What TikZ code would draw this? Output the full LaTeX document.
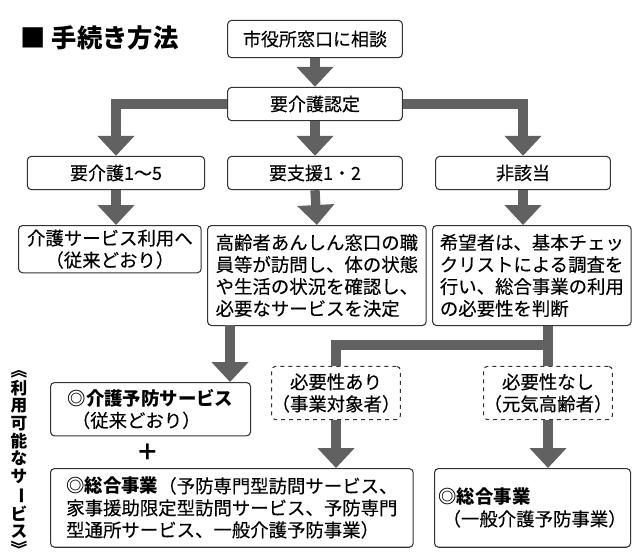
\documentclass[tikz,border=0pt]{standalone}
\usepackage{fontspec}
\setmainfont{Noto Sans CJK JP}[UprightFeatures={FakeBold=0.25}]
\XeTeXlinebreaklocale "ja"
\XeTeXlinebreakskip=0pt plus 1pt
\usepackage{graphicx}
\usetikzlibrary{arrows.meta, positioning}

\begin{document}
\begin{tikzpicture}[
    x=0.75pt, y=-0.75pt,
    % Styles
    stepbox/.style={rectangle, draw=black!80, line width=0.8pt, rounded corners=3pt, font=\fontsize{13.5}{16}\selectfont, inner sep=0pt},
    textbox/.style={stepbox, align=left, anchor=north west, inner xsep=2pt, inner ysep=3pt, font=\fontsize{13.8}{16.5}\selectfont},
    needbox/.style={stepbox, dashed, align=center, font=\fontsize{13.8}{16.5}\selectfont},
    flow/.style={line width=7pt, color=black!62},
    flowarrow/.style={flow, -{Triangle[width=27pt,length=15pt]}}
]
\useasboundingbox (0,0) rectangle (641,558);

% Title
\node[anchor=west, font=\fontsize{19}{20}\selectfont\bfseries] (title) at (16,38) {■ 手続き方法};

% Top boxes
\node[stepbox, minimum width=131pt, minimum height=28pt] (consult) at (315,39) {市役所窓口に相談};
\node[stepbox, minimum width=131pt, minimum height=25pt] (cert) at (315,104) {要介護認定};

% Level boxes
\node[stepbox, minimum width=133pt, minimum height=25pt] (care) at (116,173) {要介護1〜5};
\node[stepbox, minimum width=131pt, minimum height=25pt] (support) at (315,173) {要支援1・2};
\node[stepbox, minimum width=131pt, minimum height=25pt] (none) at (523,173) {非該当};

% Result boxes
\node[textbox, minimum width=137pt, minimum height=30pt, align=center] (careuse) at (18,225) {介護サービス利用へ\\（従来どおり）};
\node[textbox, minimum width=164pt, minimum height=75pt] (visit) at (207,225) {高齢者あんしん窓口の職\\員等が訪問し、体の状態\\や生活の状況を確認し、\\必要なサービスを決定};
\node[textbox, minimum width=149pt, minimum height=75pt] (check) at (432,225) {希望者は、基本チェッ\\クリストによる調査を\\行い、総合事業の利用\\の必要性を判断};

% Need boxes
\node[needbox, minimum width=92pt, minimum height=40pt] (need) at (336,393) {必要性あり\\（事業対象者）};
\node[needbox, minimum width=92pt, minimum height=40pt] (noneed) at (548,393) {必要性なし\\（元気高齢者）};

% Service boxes
\node[textbox, minimum width=150pt, minimum height=40pt] (prevent) at (50,382) {\textbf{◎介護予防サービス}\\\ （従来どおり）};
\node[font=\fontsize{17}{17}\selectfont\bfseries] (plus) at (148,452) {＋};
\node[textbox, minimum width=272pt, minimum height=59pt] (general) at (50,468) {\textbf{◎総合事業}（予防専門型訪問サービス、\\家事援助限定型訪問サービス、予防専門\\型通所サービス、一般介護予防事業）};
\node[textbox, minimum width=147pt, minimum height=59pt] (generalb) at (434,468) {\textbf{◎総合事業}\\\ （一般介護予防事業）};

% Side label
\node[align=center, font=\fontsize{12.5}{13.2}\selectfont\bfseries, inner sep=0pt] (avail) at (19,463) {︽\\利\\用\\可\\能\\な\\サ\\\rotatebox[origin=c]{-90}{ー}\\ビ\\ス\\︾};

% Flow arrows
\draw[flowarrow] (consult.south) -- (cert.north);
\draw[flowarrow] (cert.west) -| (care.north);
\draw[flowarrow] (cert.south) -- (support.north);
\draw[flowarrow] (cert.east) -| (none.north);
\draw[flowarrow] (care.south) -- (care.south |- careuse.north);
\draw[flowarrow] (support.south) -- (visit.north);
\draw[flowarrow] (none.south) -- (none.south |- check.north);
\coordinate (vs) at (230,325);
\draw[flowarrow] (vs) -- (vs |- prevent.north);
\coordinate (split) at (548,345);
\draw[flow] (split |- check.south) -- (split) -| (need.north);
\draw[flow] (split) -- (noneed.north);
\draw[flowarrow] (need.south) -- (need.south |- general.north);
\draw[flowarrow] (noneed.south) -- (noneed.south |- generalb.north);

\end{tikzpicture}
\end{document}
